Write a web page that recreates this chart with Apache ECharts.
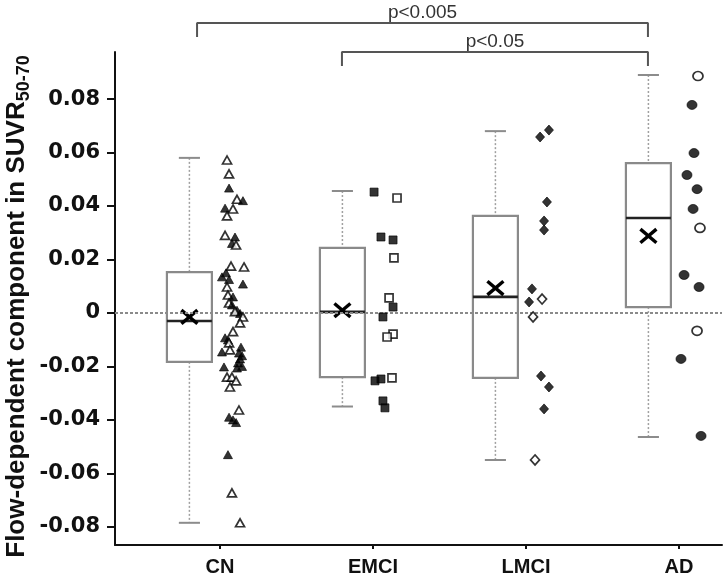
<!DOCTYPE html>
<html>
<head>
<meta charset="utf-8">
<script src="https://cdn.jsdelivr.net/npm/echarts@6/dist/echarts.min.js"></script>
<style>
  html, body { margin: 0; padding: 0; background: #fff; }
  #chart { width: 727px; height: 583px; }
</style>
</head>
<body>
<div id="chart"></div>
<script>
// ---------------- data ----------------
const categories = ['CN', 'EMCI', 'LMCI', 'AD'];

const yTicks = [-0.08, -0.06, -0.04, -0.02, 0, 0.02, 0.04, 0.06, 0.08];

// box statistics per group (CN, EMCI, LMCI, AD)
const whiskerLow  = [-0.0785, -0.035, -0.055, -0.0464];
const quart1      = [-0.0183, -0.024, -0.0243, 0.0022];
const medians     = [-0.003, 0.0004, 0.006, 0.0355];
const quart3      = [0.0153, 0.0243, 0.0363, 0.056];
const whiskerHigh = [0.058, 0.0456, 0.068, 0.089];
const means       = [-0.0015, 0.001, 0.0093, 0.0288];

// individual subjects
const cnValues = [0.0572,0.052,0.0467,0.0425,0.042,0.0392,0.0389,0.0363,0.029,0.0284,
  0.026,0.0254,0.0175,0.0172,0.015,0.0135,0.0125,0.0108,0.0097,0.0067,
  0.006,0.0037,0.003,0.001,0.0005,-0.0002,-0.0015,-0.0037,-0.007,-0.0093,
  -0.0101,-0.0112,-0.0128,-0.0138,-0.0146,-0.015,-0.016,-0.0172,-0.0187,-0.0202,
  -0.0206,-0.02,-0.024,-0.024,-0.0254,-0.0277,-0.0363,-0.039,-0.04,-0.041,
  -0.053,-0.0673,-0.0785];
const cnJitter = [0.046,0.059,0.059,0.111,0.150,0.033,0.085,0.046,0.033,0.098,
  0.078,0.105,0.072,0.157,0.039,0.013,0.059,0.150,0.046,0.052,
  0.085,0.059,0.078,0.111,0.098,0.131,0.150,0.131,0.085,0.033,
  0.052,0.059,0.137,0.065,0.013,0.124,0.144,0.131,0.118,0.026,
  0.111,0.144,0.046,0.078,0.105,0.065,0.124,0.059,0.085,0.105,
  0.052,0.078,0.131];
const cnFilled = [0,0,1,0,1,1,0,0,0,1, 1,0,0,0,1,1,1,1,0,0, 1,0,1,1,0,1,0,0,0,1,
  1,0,1,0,1,1,1,1,1,1, 1,1,0,0,0,0,0,1,1,1, 1,0,0];

const emciValues = [0.0452,0.043,0.0284,0.0273,0.0206,0.0056,0.0022,-0.0015,-0.0079,-0.009,
  -0.0254,-0.0247,-0.0243,-0.0329,-0.0355];
const emciJitter = [0.007,0.157,0.052,0.131,0.137,0.105,0.131,0.065,0.131,0.092,
  0.013,0.052,0.124,0.065,0.078];
const emciFilled = [1,0,1,1,0,0,1,1,0,0,1,1,0,1,1];

const lmciValues = [0.0684,0.0658,0.0415,0.0344,0.031,0.009,0.0041,0.0052,-0.0015,-0.0236,
  -0.0277,-0.0359,-0.055];
const lmciJitter = [0.150,0.092,0.137,0.118,0.118,0.039,0.020,0.105,0.046,0.098,
  0.150,0.118,0.059];
const lmciFilled = [1,1,1,1,1,1,1,0,0,1,1,1,0];

const adValues = [0.0886,0.0778,0.0598,0.0516,0.0463,0.0389,0.0318,0.0142,0.0097,-0.0067,
  -0.0172,-0.046];
const adJitter = [0.124,0.085,0.098,0.052,0.118,0.092,0.137,0.033,0.131,0.118,0.013,0.144];
const adFilled = [0,1,1,1,1,1,0,1,1,0,1,1];

// significance annotations
const sigLabels = ['p<0.005', 'p<0.05'];
const sigFrom = [0.85, 1.797];
const sigTo = [3.797, 3.797];
const sigTop = [0.10845, 0.0976];
const sigLeg = [0.1032, 0.09236];

// ---------------- layout / style ----------------
const FONT = '"Liberation Sans", Arial, Helvetica, sans-serif';
const TICK_FONT = '"DejaVu Sans", "Liberation Sans", Arial, sans-serif';
const X_MIN = 0.3137, X_MAX = 4.281;
const Y_MIN = -0.0868, Y_MAX = 0.0976;
const BOX_SHIFT = -0.2, BOX_HALF = 0.147, CAP_HALF = 0.069;

const boxData = categories.map((c, i) => [i + 1, whiskerLow[i], quart1[i], medians[i], quart3[i], whiskerHigh[i], means[i]]);

function boxRender(params, api) {
  const x = api.value(0) + BOX_SHIFT;
  const pLow = api.coord([x, api.value(1)]);
  const pQ1 = api.coord([x, api.value(2)]);
  const pQ3 = api.coord([x, api.value(4)]);
  const pHigh = api.coord([x, api.value(5)]);
  const w = api.size([BOX_HALF * 2, 0])[0];
  const cw = api.size([CAP_HALF * 2, 0])[0];
  const dotted = { stroke: '#a0a0a0', lineWidth: 1.5, lineDash: [2, 2] };
  const cap = { stroke: '#8c8c8c', lineWidth: 2 };
  return {
    type: 'group',
    children: [
      { type: 'line', shape: { x1: pHigh[0], y1: pHigh[1], x2: pQ3[0], y2: pQ3[1] }, style: dotted },
      { type: 'line', shape: { x1: pQ1[0], y1: pQ1[1], x2: pLow[0], y2: pLow[1] }, style: dotted },
      { type: 'line', shape: { x1: pHigh[0] - cw / 2, y1: pHigh[1], x2: pHigh[0] + cw / 2, y2: pHigh[1] }, style: cap },
      { type: 'line', shape: { x1: pLow[0] - cw / 2, y1: pLow[1], x2: pLow[0] + cw / 2, y2: pLow[1] }, style: cap },
      { type: 'rect', shape: { x: pQ3[0] - w / 2, y: pQ3[1], width: w, height: pQ1[1] - pQ3[1] },
        style: { fill: '#fff', stroke: '#8a8a8a', lineWidth: 2.2 } }
    ]
  };
}

function medianRender(params, api) {
  const x = api.value(0) + BOX_SHIFT;
  const pMed = api.coord([x, api.value(3)]);
  const pMean = api.coord([x, api.value(6)]);
  const w = api.size([BOX_HALF * 2, 0])[0];
  const s = 8;
  const xs = { stroke: '#000', lineWidth: 3.4 };
  return {
    type: 'group',
    children: [
      { type: 'line', shape: { x1: pMed[0] - w / 2, y1: pMed[1], x2: pMed[0] + w / 2, y2: pMed[1] },
        style: { stroke: '#222', lineWidth: 2.6 } },
      { type: 'line', shape: { x1: pMean[0] - s, y1: pMean[1] - s * 0.85, x2: pMean[0] + s, y2: pMean[1] + s * 0.85 }, style: xs },
      { type: 'line', shape: { x1: pMean[0] - s, y1: pMean[1] + s * 0.85, x2: pMean[0] + s, y2: pMean[1] - s * 0.85 }, style: xs }
    ]
  };
}

function pointData(groupIndex, values, jitter, filled) {
  return values.map((v, i) => ({
    value: [groupIndex + 1 + jitter[i], v],
    itemStyle: filled[i]
      ? { color: '#000', borderColor: '#000', borderWidth: 0.8 }
      : { color: '#fff', borderColor: '#000', borderWidth: 1.7 }
  }));
}

function scatterSeries(groupIndex, values, jitter, filled, symbol, size) {
  return {
    type: 'scatter', symbol: symbol, symbolSize: size, z: 10, silent: true,
    data: pointData(groupIndex, values, jitter, filled)
  };
}

const bracketSeries = sigLabels.map((t, i) => ({
  type: 'line', clip: false, symbol: 'none', silent: true, z: 8,
  lineStyle: { color: '#555', width: 2 },
  data: [[sigFrom[i], sigLeg[i]], [sigFrom[i], sigTop[i]], [sigTo[i], sigTop[i]], [sigTo[i], sigLeg[i]]]
}));

const sigTextSeries = {
  type: 'custom', z: 9, silent: true, clip: false,
  data: sigLabels.map((t, i) => [(sigFrom[i] + sigTo[i]) / 2, sigTop[i]]),
  renderItem: function (params, api) {
    const p = api.coord([api.value(0), api.value(1)]);
    return {
      type: 'text',
      x: p[0], y: p[1] - 1,
      style: {
        text: sigLabels[params.dataIndex],
        textAlign: 'center', textVerticalAlign: 'bottom',
        fontSize: 19, fontFamily: FONT, fill: '#333'
      }
    };
  }
};

const option = {
  animation: false,
  backgroundColor: '#fff',
  grid: { left: 115, right: 5, top: 52, bottom: 38, containLabel: false, outerBoundsMode: 'none' },
  xAxis: {
    type: 'value', min: X_MIN, max: X_MAX,
    axisLine: { show: true, onZero: false, lineStyle: { color: '#111', width: 2 } },
    axisTick: { show: true, customValues: [1, 2, 3, 4], length: 4, lineStyle: { color: '#111', width: 2 } },
    axisLabel: {
      customValues: [1, 2, 3, 4],
      formatter: v => categories[Math.round(v) - 1],
      margin: 12, fontSize: 20, fontWeight: 'bold', fontFamily: FONT, color: '#111'
    },
    splitLine: { show: false }
  },
  yAxis: {
    type: 'value', min: Y_MIN, max: Y_MAX,
    axisLine: { show: true, onZero: false, lineStyle: { color: '#111', width: 2 } },
    axisTick: { show: true, customValues: yTicks, length: 8, lineStyle: { color: '#111', width: 2 } },
    axisLabel: {
      customValues: yTicks,
      formatter: v => (Math.abs(v) < 1e-9 ? '0' : v.toFixed(2)),
      margin: 15, fontSize: 21, fontWeight: 'bold', fontFamily: TICK_FONT, color: '#111'
    },
    splitLine: { show: false },
    name: '{a|Flow-dependent component in SUVR}{b|50-70}',
    nameLocation: 'middle',
    nameGap: 82,
    nameMoveOverlap: false,
    nameTextStyle: {
      padding: [0, 16, 0, 0],
      rich: {
        a: { fontSize: 26, fontWeight: 'bold', fontFamily: FONT, color: '#111', lineHeight: 32 },
        b: { fontSize: 18, fontWeight: 'bold', fontFamily: FONT, color: '#111', lineHeight: 14, verticalAlign: 'bottom' }
      }
    }
  },
  series: [
    { type: 'custom', renderItem: boxRender, data: boxData, z: 2, silent: true,
      encode: { x: 0, y: [1, 5] } },
    { type: 'line', data: [], z: 3, silent: true,
      markLine: {
        silent: true, symbol: 'none', label: { show: false },
        lineStyle: { color: '#8a8a8a', width: 2, type: [3, 2] },
        data: [{ yAxis: 0 }]
      } },
    { type: 'custom', renderItem: medianRender, data: boxData, z: 4, silent: true,
      encode: { x: 0, y: [3, 6] } },
    scatterSeries(0, cnValues, cnJitter, cnFilled, 'triangle', [9, 8]),
    scatterSeries(1, emciValues, emciJitter, emciFilled, 'rect', [8, 8]),
    scatterSeries(2, lmciValues, lmciJitter, lmciFilled, 'diamond', [9, 10]),
    scatterSeries(3, adValues, adJitter, adFilled, 'circle', [10, 9]),
    ...bracketSeries,
    sigTextSeries
  ]
};

const chart = echarts.init(document.getElementById('chart'), null, { renderer: 'canvas' });
chart.setOption(option);
</script>
</body>
</html>
